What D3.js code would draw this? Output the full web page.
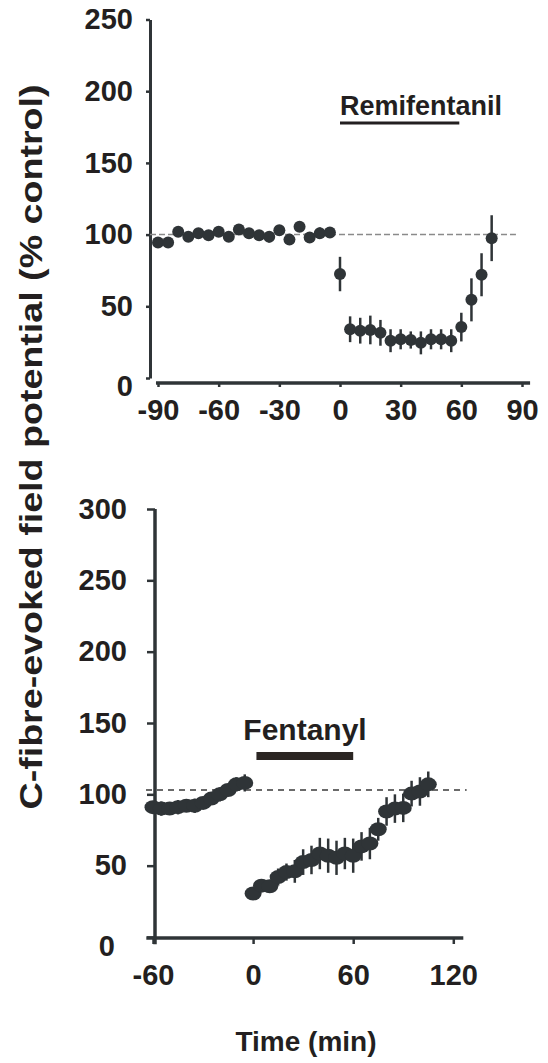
<!DOCTYPE html>
<html>
<head>
<meta charset="utf-8">
<script src="https://cdn.jsdelivr.net/npm/d3@7"></script>
<style>
  body { margin: 0; background: #fff; }
  svg text { font-family: "Liberation Sans", Arial, sans-serif; font-weight: bold; fill: #231f20; }
  .axis path, .axis line { stroke: #2f3437; }
</style>
</head>
<body>
<svg width="548" height="1063"></svg>
<script>
// ---- data: remifentanil (top panel) ----
var remiPreTime = [-90, -85, -80, -75, -70, -65, -60, -55, -50, -45, -40, -35, -30, -25, -20, -15, -10, -5];
var remiPreMean = [94.5, 94.5, 102, 98.5, 101, 99.5, 102, 98.5, 103.5, 101, 99.5, 98.5, 103, 96.5, 105.5, 98, 101, 101.5];
var remiPreErr  = [2, 2, 2, 2, 2, 2, 2, 2, 3, 2, 2, 4, 3, 2, 3, 3, 4, 2];
var remiPostTime = [0, 5, 10, 15, 20, 25, 30, 35, 40, 45, 50, 55, 60, 65, 70, 75];
var remiPostMean = [72.5, 34, 33, 33.5, 31.5, 26, 27, 26.5, 24.5, 27, 27, 26, 35.5, 54.5, 72, 97.5];
var remiPostErr  = [12, 9, 9, 10, 9, 8, 7, 6, 8, 7, 7, 8, 10, 15, 15, 16];
var remiXTicks = [-90, -60, -30, 0, 30, 60, 90];
var remiYTicks = [0, 50, 100, 150, 200, 250];

// ---- data: fentanyl (bottom panel) ----
var fentPreTime = [-60, -55, -50, -45, -40, -35, -30, -25, -20, -15, -10, -5];
var fentPreMean = [91, 90, 90, 91, 92, 92, 94, 97, 100, 103, 107, 108];
var fentPreErr  = [4, 5, 4, 5, 4, 5, 4, 4, 5, 4, 5, 6];
var fentPostTime = [0, 5, 10, 15, 20, 25, 30, 35, 40, 45, 50, 55, 60, 65, 70, 75, 80, 85, 90, 95, 100, 105];
var fentPostMean = [30.5, 36, 35.5, 42, 45.5, 46, 52.5, 54, 58.5, 57, 55.5, 58.5, 57, 63.5, 65.5, 75.5, 88, 90, 90.5, 100.5, 102, 107];
var fentPostErr  = [3, 4, 4, 6, 6, 8, 9, 10, 11, 12, 12, 11, 12, 10, 11, 8, 10, 10, 10, 9, 10, 9];
var fentXTicks = [-60, 0, 60, 120];
var fentYTicks = [0, 50, 100, 150, 200, 250, 300];

var ink = "#2f3437";
var svg = d3.select("svg");
var plain = function(d) { return String(d); };   // keep ASCII hyphen for negatives

function zip(t, m, e) {
    return t.map(function(d, i) { return {t: d, m: m[i], e: e[i]}; });
}

// ================= top panel =================
var x1 = d3.scaleLinear().domain([-90, 90]).range([158, 522]);
var y1 = d3.scaleLinear().domain([0, 250]).range([378, 19.5]);
var gTop = svg.append("g");

var yAx1 = gTop.append("g")
    .attr("class", "axis")
    .attr("transform", "translate(150,0)")
    .call(d3.axisLeft(y1).tickValues(remiYTicks).tickFormat(plain).tickSize(4).tickSizeOuter(0).tickPadding(13));
yAx1.select(".domain").attr("stroke-width", 3);
yAx1.selectAll(".tick line").attr("stroke-width", 2.5);
yAx1.selectAll("text").style("font-size", "29px")
    .attr("dy", function(d) { return d === 0 ? "0.62em" : "0.32em"; });

var xAx1 = gTop.append("g")
    .attr("class", "axis")
    .attr("transform", "translate(0,383)")
    .call(d3.axisBottom(x1).tickValues(remiXTicks).tickFormat(plain).tickSize(4).tickSizeOuter(0).tickPadding(12));
xAx1.select(".domain").remove();
xAx1.append("line")
    .attr("x1", x1(-91)).attr("x2", x1(94))
    .attr("stroke", ink).attr("stroke-width", 3.5);
xAx1.selectAll(".tick line").attr("stroke-width", 2.5);
xAx1.selectAll("text").style("font-size", "29px");

// control level
gTop.append("line")
    .attr("x1", 150).attr("x2", x1(87))
    .attr("y1", y1(100)).attr("y2", y1(100))
    .attr("stroke", "#8a8a8a").attr("stroke-width", 1.5)
    .attr("stroke-dasharray", "6,3");

var remi = zip(remiPreTime, remiPreMean, remiPreErr).concat(zip(remiPostTime, remiPostMean, remiPostErr));
gTop.selectAll(".err").data(remi).enter().append("line")
    .attr("x1", function(d) { return x1(d.t); })
    .attr("x2", function(d) { return x1(d.t); })
    .attr("y1", function(d) { return y1(d.m - d.e); })
    .attr("y2", function(d) { return y1(d.m + d.e); })
    .attr("stroke", ink).attr("stroke-width", 2.5);
gTop.selectAll(".dot").data(remi).enter().append("circle")
    .attr("cx", function(d) { return x1(d.t); })
    .attr("cy", function(d) { return y1(d.m); })
    .attr("r", 6)
    .attr("fill", ink);

gTop.append("text")
    .attr("x", 340).attr("y", 115)
    .style("font-size", "27px")
    .text("Remifentanil");
gTop.append("line")
    .attr("x1", x1(0)).attr("x2", x1(59))
    .attr("y1", 123).attr("y2", 123)
    .attr("stroke", "#231f20").attr("stroke-width", 3);

// ================= bottom panel =================
var x2 = d3.scaleLinear().domain([-60, 120]).range([153, 453.3]);
var y2 = d3.scaleLinear().domain([0, 300]).range([937, 509]);
var gBot = svg.append("g");

var yAx2 = gBot.append("g")
    .attr("class", "axis")
    .attr("transform", "translate(155,0)")
    .call(d3.axisLeft(y2).tickValues(fentYTicks).tickFormat(plain).tickSize(8).tickSizeOuter(0).tickPadding(20));
yAx2.select(".domain").remove();
yAx2.append("line")
    .attr("y1", y2(300)).attr("y2", y2(-5))
    .attr("stroke", ink).attr("stroke-width", 3.5);
yAx2.selectAll(".tick line").attr("stroke-width", 2.5);
yAx2.selectAll("text").style("font-size", "29px")
    .attr("dy", function(d) { return d === 0 ? "0.65em" : "0.32em"; })
    .attr("dx", function(d) { return d === 0 ? -12 : 0; });

var xAx2 = gBot.append("g")
    .attr("class", "axis")
    .attr("transform", "translate(0,938)")
    .call(d3.axisBottom(x2).tickValues(fentXTicks).tickFormat(plain).tickSize(6).tickSizeOuter(0).tickPadding(20));
xAx2.select(".domain").remove();
xAx2.append("line")
    .attr("x1", x2(-64)).attr("x2", x2(126))
    .attr("stroke", ink).attr("stroke-width", 3.5);
xAx2.selectAll(".tick line").attr("stroke-width", 2.5);
xAx2.selectAll("text").style("font-size", "29px");

gBot.append("line")
    .attr("x1", 146).attr("x2", x2(128))
    .attr("y1", y2(103)).attr("y2", y2(103))
    .attr("stroke", "#3a3a3a").attr("stroke-width", 1.5)
    .attr("stroke-dasharray", "6,5");

var fent = zip(fentPreTime, fentPreMean, fentPreErr).concat(zip(fentPostTime, fentPostMean, fentPostErr));
gBot.selectAll(".err").data(fent).enter().append("line")
    .attr("x1", function(d) { return x2(d.t); })
    .attr("x2", function(d) { return x2(d.t); })
    .attr("y1", function(d) { return y2(d.m - d.e); })
    .attr("y2", function(d) { return y2(d.m + d.e); })
    .attr("stroke", ink).attr("stroke-width", 2.5);
gBot.selectAll(".dot").data(fent).enter().append("ellipse")
    .attr("cx", function(d) { return x2(d.t); })
    .attr("cy", function(d) { return y2(d.m); })
    .attr("rx", 8.5).attr("ry", 7)
    .attr("fill", ink);

gBot.append("text")
    .attr("x", 305).attr("y", 740)
    .attr("text-anchor", "middle")
    .style("font-size", "30px")
    .text("Fentanyl");
gBot.append("rect")
    .attr("x", x2(2)).attr("y", 752)
    .attr("width", x2(60) - x2(2)).attr("height", 8)
    .attr("fill", "#2b2623");

// ================= shared labels =================
svg.append("text")
    .attr("transform", "translate(42,447) rotate(-90)")
    .attr("text-anchor", "middle")
    .attr("textLength", 725).attr("lengthAdjust", "spacingAndGlyphs")
    .style("font-size", "31px")
    .text("C-fibre-evoked field potential  (% control)");

svg.append("text")
    .attr("x", 306).attr("y", 1051)
    .attr("text-anchor", "middle")
    .style("font-size", "28px")
    .text("Time (min)");
</script>
</body>
</html>
